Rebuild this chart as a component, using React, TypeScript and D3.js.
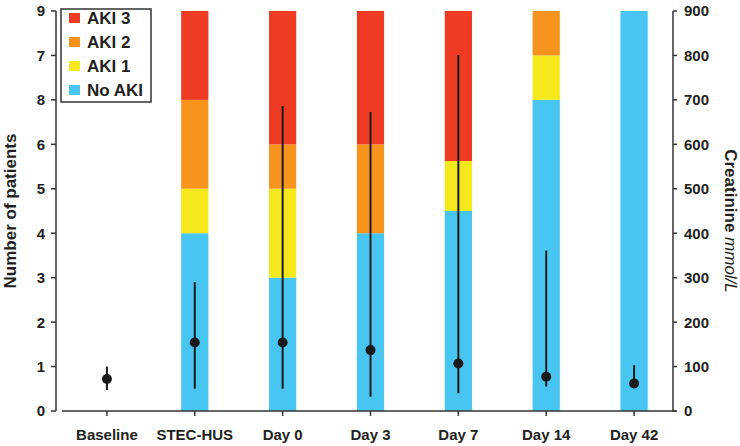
import { useEffect, useRef } from 'react';
import * as d3 from 'd3';

// categories along the x axis
const categories = ['Baseline', 'STEC-HUS', 'Day 0', 'Day 3', 'Day 7', 'Day 14', 'Day 42'];

// stacked patient counts per AKI stage
const noAki = [0, 4, 3, 4, 4.5, 7, 9];
const aki1 = [0, 1, 2, 0, 1.125, 1, 0];
const aki2 = [0, 2, 1, 2, 0, 1, 0];
const aki3 = [0, 2, 3, 3, 3.375, 0, 0];

// creatinine median and range (right axis)
const creatMedian = [72, 154, 154, 137, 107, 77, 62];
const creatLow = [47, 50, 50, 32, 40, 55, 62];
const creatHigh = [100, 290, 686, 673, 801, 361, 103];

// left tick labels as printed in the figure
const leftTickLabels = ['0', '1', '2', '3', '4', '5', '6', '8', '7', '9'];
const rightTicks = [0, 100, 200, 300, 400, 500, 600, 700, 800, 900];

const stageKeys = ['No AKI', 'AKI 1', 'AKI 2', 'AKI 3'];
const stageColors = ['#48C5F0', '#F5E81C', '#F7941D', '#EE3B24'];
const legendOrder = ['AKI 3', 'AKI 2', 'AKI 1', 'No AKI'];

const W = 740;
const H = 446;
const FONT = '"Liberation Sans", Arial, Helvetica, sans-serif';
const INK = '#231F20';

export default function App() {
  const svgRef = useRef<SVGSVGElement>(null);

  useEffect(() => {
    const svg = d3.select(svgRef.current);
    svg.selectAll('*').remove();

    const top = 11;
    const bottom = 411;
    const leftAxisX = 56;
    const rightAxisX = 673;

    const x = d3.scalePoint<string>().domain(categories).range([63, 678]).padding(0.5);
    const barW = x.step() * 0.31;
    const yL = d3.scaleLinear().domain([0, 9]).range([bottom, top]);
    const yR = d3.scaleLinear().domain([0, 900]).range([bottom, top]);
    const color = d3.scaleOrdinal<string, string>().domain(stageKeys).range(stageColors);

    const rows = categories.map((c, i) => ({
      cat: c,
      'No AKI': noAki[i],
      'AKI 1': aki1[i],
      'AKI 2': aki2[i],
      'AKI 3': aki3[i],
    }));
    const series = d3.stack<any>().keys(stageKeys)(rows);

    // stacked bars
    svg.append('g')
      .selectAll('g')
      .data(series)
      .join('g')
      .attr('fill', d => color(d.key))
      .selectAll('rect')
      .data(d => d)
      .join('rect')
      .attr('x', d => (x(d.data.cat) as number) - barW / 2)
      .attr('width', barW)
      .attr('y', d => yL(d[1]))
      .attr('height', d => yL(d[0]) - yL(d[1]));

    // left axis
    const gl = svg.append('g').attr('font-family', FONT).attr('font-weight', 'bold').attr('font-size', 15).attr('fill', INK);
    gl.append('line')
      .attr('x1', leftAxisX).attr('x2', leftAxisX)
      .attr('y1', top).attr('y2', bottom)
      .attr('stroke', '#333').attr('stroke-width', 1.5);
    d3.range(10).forEach(v => {
      gl.append('line')
        .attr('x1', leftAxisX - 5).attr('x2', leftAxisX)
        .attr('y1', yL(v)).attr('y2', yL(v))
        .attr('stroke', '#333').attr('stroke-width', 1.5);
      gl.append('text')
        .attr('x', 45).attr('y', yL(v))
        .attr('dy', '0.36em')
        .attr('text-anchor', 'end')
        .text(leftTickLabels[v]);
    });
    gl.append('text')
      .attr('transform', `translate(16,${(top + bottom) / 2}) rotate(-90)`)
      .attr('text-anchor', 'middle')
      .attr('font-size', 17)
      .text('Number of patients');

    // right axis
    const gr = svg.append('g').attr('font-family', FONT).attr('font-weight', 'bold').attr('font-size', 15).attr('fill', INK);
    gr.append('line')
      .attr('x1', rightAxisX).attr('x2', rightAxisX)
      .attr('y1', top).attr('y2', bottom)
      .attr('stroke', '#333').attr('stroke-width', 1.5);
    rightTicks.forEach(v => {
      gr.append('line')
        .attr('x1', rightAxisX).attr('x2', rightAxisX + 4)
        .attr('y1', yR(v)).attr('y2', yR(v))
        .attr('stroke', '#333').attr('stroke-width', 1.5);
      gr.append('text')
        .attr('x', 684).attr('y', yR(v))
        .attr('dy', '0.36em')
        .text(v);
    });
    const rt = gr.append('text')
      .attr('transform', `translate(725,${221}) rotate(90)`)
      .attr('text-anchor', 'middle')
      .attr('font-size', 17);
    rt.append('tspan').text('Creatinine ');
    rt.append('tspan').attr('font-style', 'italic').attr('font-weight', 'normal').text('mmol/L');

    // x axis
    const gx = svg.append('g').attr('font-family', FONT).attr('font-weight', 'bold').attr('font-size', 15).attr('fill', INK);
    gx.append('line')
      .attr('x1', 62).attr('x2', 676)
      .attr('y1', bottom).attr('y2', bottom)
      .attr('stroke', '#333').attr('stroke-width', 1.5);
    categories.forEach(c => {
      gx.append('line')
        .attr('x1', x(c) as number).attr('x2', x(c) as number)
        .attr('y1', bottom).attr('y2', bottom + 5)
        .attr('stroke', '#333').attr('stroke-width', 1.5);
      gx.append('text')
        .attr('x', x(c) as number).attr('y', 440)
        .attr('text-anchor', 'middle')
        .text(c);
    });

    // creatinine range bars and medians
    const ge = svg.append('g');
    categories.forEach((c, i) => {
      const cx = x(c) as number;
      ge.append('line')
        .attr('x1', cx).attr('x2', cx)
        .attr('y1', yR(creatHigh[i])).attr('y2', yR(creatLow[i]))
        .attr('stroke', '#1a1a1a').attr('stroke-width', 2);
      ge.append('circle')
        .attr('cx', cx).attr('cy', yR(creatMedian[i]))
        .attr('r', 5)
        .attr('fill', '#1a1a1a');
    });

    // legend
    const lg = svg.append('g').attr('font-family', FONT).attr('font-weight', 'bold').attr('font-size', 17).attr('fill', INK);
    lg.append('rect')
      .attr('x', 61).attr('y', 9).attr('width', 90).attr('height', 93)
      .attr('fill', 'white').attr('stroke', '#333').attr('stroke-width', 1.5);
    legendOrder.forEach((k, i) => {
      const cy = 18 + i * 24;
      lg.append('rect')
        .attr('x', 69).attr('y', cy - 5).attr('width', 11).attr('height', 10)
        .attr('fill', color(k));
      lg.append('text')
        .attr('x', 87).attr('y', cy)
        .attr('dy', '0.36em')
        .text(k);
    });
  }, []);

  return (
    <svg
      ref={svgRef}
      width={W}
      height={H}
      viewBox={`0 0 ${W} ${H}`}
      style={{ position: 'absolute', left: 0, top: 0, background: 'white', display: 'block' }}
    />
  );
}
